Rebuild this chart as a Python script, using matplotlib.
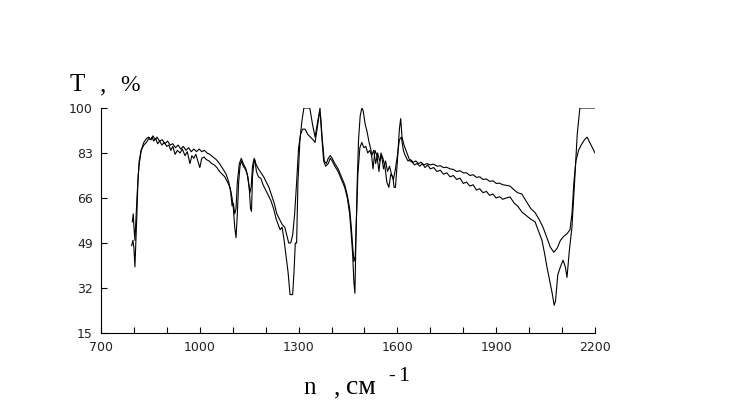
import matplotlib
matplotlib.use("Agg")
import matplotlib.pyplot as plt
from matplotlib.ticker import MultipleLocator

# spectrum 1 (solid, deeper bands)
wn_1 = [793, 797, 800, 803, 806, 809, 812, 816, 822, 830, 838, 845, 850, 855, 860,
        866, 872, 878, 885, 892, 900, 906, 912, 918, 925, 932, 940, 947, 955, 962,
        970, 976, 982, 988, 994, 1000, 1006, 1013, 1020, 1028, 1036, 1044, 1052, 1060,
        1068, 1076, 1084, 1092, 1098, 1102, 1106, 1110, 1114, 1118, 1122, 1126, 1132,
        1138, 1144, 1150, 1154, 1157, 1160, 1164, 1167, 1172, 1178, 1185, 1192, 1200,
        1208, 1216, 1224, 1232, 1238, 1244, 1250, 1256, 1262, 1268, 1274, 1282, 1286,
        1290, 1294, 1298, 1304, 1310, 1316, 1334, 1342, 1350, 1358, 1365, 1370, 1376,
        1382, 1390, 1396, 1402, 1410, 1420, 1430, 1440, 1448, 1455, 1460, 1464, 1468,
        1471, 1474, 1478, 1482, 1487, 1492, 1496, 1502, 1508, 1514, 1520, 1526, 1532,
        1538, 1544, 1550, 1556, 1562, 1568, 1574, 1580, 1586, 1590, 1594, 1600, 1606,
        1610, 1614, 1620, 1626, 1632, 1638, 1645, 1652, 1660, 1668, 1676, 1684, 1692,
        1700, 1710, 1720, 1730, 1740, 1750, 1760, 1770, 1780, 1790, 1800, 1810, 1820,
        1830, 1840, 1850, 1860, 1870, 1880, 1890, 1900, 1910, 1920, 1930, 1942, 1955,
        1965, 1978, 1990, 2005, 2018, 2030, 2039, 2047, 2054, 2062, 2070, 2076, 2080,
        2087, 2095, 2103, 2110, 2115, 2122, 2130, 2138, 2146, 2154, 2200]
t_1 = [48, 50, 47, 40, 50, 60, 72, 80, 84, 86, 87, 88.5, 88, 89, 87.5,
       88.5, 86.5, 87.5, 86, 87, 85.5, 86, 84, 85.5, 82.5, 84, 83, 84.5, 82, 83.5,
       79, 82, 81, 82.5, 80, 77.5, 81, 81.5, 80.5, 80, 79, 78.5, 77.5, 76,
       75, 74, 72, 70, 66, 62, 55, 51, 60, 72, 78, 80, 78,
       77, 75, 70, 62, 61, 74, 79, 80.5, 76, 74, 73.5, 71, 69,
       67, 65, 62, 58, 56, 54, 55, 50, 44, 38, 29.5, 29.5, 38,
       49, 49, 72, 88, 95, 100, 100, 94, 89, 95, 100, 90, 80,
       78, 79, 81, 80, 78, 76, 73, 70, 66, 60, 52, 45, 34,
       30, 50, 72, 88, 97, 100, 99, 94, 91, 87, 84, 77, 84,
       82, 76, 83, 81, 78, 72, 70, 75, 74, 70, 70, 80, 92,
       96, 89, 86, 84, 82, 80, 79.5, 78.5, 79, 78, 79, 77.5, 78.5,
       77, 77.5, 76, 76.5, 75, 75.5, 74, 74.5, 73, 73.5, 71.5, 72, 70.5,
       71, 69, 69.5, 68, 68.5, 67, 67.5, 66, 66.5, 65.5, 66, 66.4, 64,
       63, 60.7, 59.5, 58, 57, 53, 50, 45, 40, 35, 30, 25.5, 27,
       37, 40, 42.5, 40, 36, 46, 55, 72, 90, 100, 100]

# spectrum 2 (shallower bands)
wn_2 = [795, 798, 800, 803, 806, 810, 815, 822, 830, 838, 845, 852, 858, 864, 870,
        878, 886, 894, 902, 910, 918, 926, 934, 942, 950, 958, 966, 974, 982, 990,
        998, 1006, 1014, 1022, 1030, 1040, 1050, 1060, 1070, 1080, 1088, 1094, 1098,
        1102, 1106, 1110, 1114, 1120, 1126, 1132, 1140, 1146, 1152, 1156, 1160, 1165,
        1170, 1178, 1186, 1194, 1202, 1210, 1218, 1226, 1234, 1242, 1250, 1258, 1264,
        1270, 1276, 1282, 1288, 1294, 1300, 1306, 1312, 1320, 1328, 1336, 1344, 1350,
        1356, 1362, 1366, 1372, 1378, 1384, 1390, 1396, 1402, 1410, 1420, 1430, 1440,
        1448, 1455, 1460, 1464, 1468, 1472, 1476, 1480, 1486, 1492, 1498, 1504, 1510,
        1516, 1522, 1528, 1534, 1540, 1546, 1552, 1558, 1564, 1570, 1576, 1582, 1588,
        1594, 1600, 1606, 1612, 1618, 1624, 1632, 1640, 1648, 1656, 1664, 1672, 1680,
        1690, 1700, 1710, 1720, 1730, 1740, 1750, 1760, 1770, 1780, 1790, 1800, 1810,
        1820, 1830, 1840, 1850, 1860, 1870, 1880, 1890, 1900, 1910, 1920, 1930, 1942,
        1955, 1965, 1978, 1990, 2005, 2018, 2030, 2042, 2054, 2064, 2075, 2085, 2095,
        2105, 2115, 2124, 2130, 2136, 2142, 2150, 2158, 2168, 2176, 2184, 2192, 2200]
t_2 = [57, 60, 55, 50, 58, 68, 78, 84, 87, 88.5, 89, 88, 89.5, 88, 89,
       87.5, 88, 86.5, 87.5, 86, 86.5, 85, 86, 84.5, 85.5, 84, 85, 83.5, 84.5, 83.5,
       84.5, 83.5, 84, 83, 82.5, 81.5, 80.5, 79, 77, 75, 72, 68, 63,
       64, 60, 62, 72, 79, 81, 79, 77, 74, 68, 70, 78, 81,
       79, 77, 75.5, 74, 72, 70, 67, 64, 60, 58, 56, 55, 52,
       49, 49, 52, 60, 72, 85, 90, 92, 92, 90, 89, 88, 87,
       92, 97, 98, 88, 80, 79, 81, 82, 81, 79, 77, 74, 71,
       67, 62, 55, 48, 42, 44, 60, 75, 85, 87, 85, 85.5, 83,
       84, 82, 84, 79, 83, 80, 82, 77, 80, 76, 78, 75, 73,
       77, 82, 88, 89, 84, 82, 80, 80.5, 79.5, 80, 79, 79.5, 78.5,
       79, 78.5, 78.8, 78, 78.2, 77.5, 77.6, 77, 76.8, 76, 76.3, 75.5, 75.5,
       74.5, 74.8, 73.8, 74, 73, 73.2, 72.3, 72.5, 71.5, 71.6, 71, 70.8, 70.5,
       69, 68, 67.5, 65, 62, 60.5, 58, 55, 51, 47.5, 45.5, 47, 50,
       51.5, 52.5, 54, 60, 72, 80, 84, 86, 88, 89, 87, 85, 83]

x_ticks = [700, 1000, 1300, 1600, 1900, 2200]
y_ticks = [15, 32, 49, 66, 83, 100]

W, H = 737, 409
fig = plt.figure(figsize=(W / 100, H / 100), dpi=100)
ax = fig.add_axes([101 / W, 76 / H, 494 / W, 225 / H])

ax.plot(wn_1, t_1, color="black", linewidth=0.8)
ax.plot(wn_2, t_2, color="black", linewidth=0.8)

# axes settings
ax.set_xlim(700, 2200)
ax.set_ylim(15, 100)
ax.set_xticks(x_ticks)
ax.set_yticks(y_ticks)
ax.xaxis.set_minor_locator(MultipleLocator(100))
ax.tick_params(which="both", direction="in", length=4, width=0.8, labelsize=9,
               labelcolor="#222222")
ax.tick_params(axis="x", pad=6)
ax.tick_params(axis="y", pad=6)
for side in ["top", "right"]:
  ax.spines[side].set_visible(False)
for side in ["left", "bottom"]:
  ax.spines[side].set_linewidth(0.8)

# axis titles, placed piece by piece
serif = "Liberation Serif"
def put(px, py, s, size):
  fig.text(px / W, 1 - py / H, s, fontsize=size, family=serif)

put(70, 91, "T", 18)
put(100, 91, ",", 18)
put(120, 91, "%", 17)

put(303, 394, "n", 18)
put(334, 394, ",", 18)
put(346, 394, "см", 20)
put(388, 381, "-", 14)
put(398, 381, "1", 16)

fig.savefig("out.png", dpi=100)
